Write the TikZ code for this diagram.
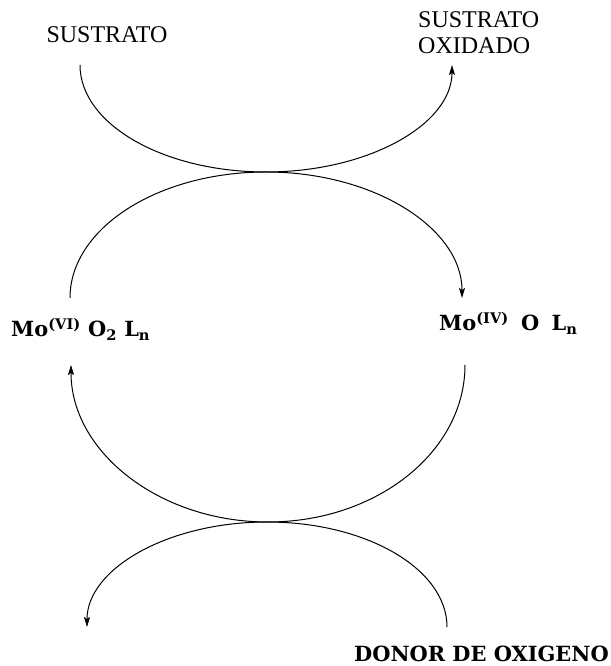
\documentclass[tikz,border=0pt]{standalone}
\usepackage{fontspec}
\newfontfamily\timesfont{Liberation Serif}
\newfontfamily\heavyfont{DejaVu Serif}
\usepackage{tikz}
\usetikzlibrary{arrows.meta, positioning}

\begin{document}
\begin{tikzpicture}[
  x=1pt, y=1pt,
  plain/.style={font=\timesfont\fontsize{24}{26}\selectfont, inner sep=0pt, align=left},
  species/.style={font=\heavyfont\bfseries\fontsize{20.9}{24}\selectfont, inner sep=0pt},
  arrow/.style={line width=1pt, -{Stealth[length=10pt, width=6pt, inset=2pt]}}
]
\useasboundingbox (0,0) rectangle (610,666);
\node (sus) [plain] at (107,631) {SUSTRATO};
\node (susox) [plain, anchor=west] at (418,633) {SUSTRATO\\OXIDADO};
\node (movi) [species, anchor=base west] at (11,329) {Mo\textsuperscript{(VI)} O\textsubscript{2} L\textsubscript{n}};
\node (moiv) [species, anchor=base west] at (439,335) {Mo\textsuperscript{(IV)}\hspace{5pt} O\hspace{5pt} L\textsubscript{n}};
\node (donor) [species, anchor=base west] at (354,5) {DONOR DE OXIGENO};
\coordinate (in1) at (80,601);
\coordinate (in2) at (70,368);
\coordinate (in3) at (465,301);
\coordinate (in4) at (447,39);
\draw [arrow] (in1) arc[start angle=180, end angle=360, x radius=186pt, y radius=107pt];
\draw [arrow] (in2) arc[start angle=180, end angle=0, x radius=196pt, y radius=126pt];
\draw [arrow] (in3) arc[start angle=0, end angle=-180, x radius=197pt, y radius=157pt];
\draw [arrow] (in4) arc[start angle=0, end angle=180, x radius=180pt, y radius=105pt];
\end{tikzpicture}
\end{document}
